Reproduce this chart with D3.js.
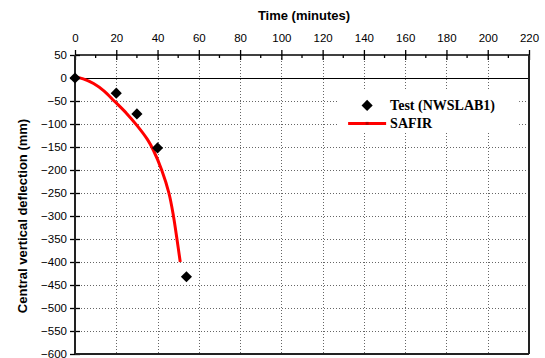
<!DOCTYPE html>
<html>
<head>
<meta charset="utf-8">
<script src="https://cdn.jsdelivr.net/npm/d3@7"></script>
<style>
  body { margin: 0; background: #fff; }
  svg { display: block; }
</style>
</head>
<body>
<svg id="chart" width="545" height="358"></svg>
<script>
// test measurements (NWSLAB1)
const testTime = [0, 20, 30, 40, 54];
const testDefl = [0, -33, -78, -152, -432];

// SAFIR prediction
const safirTime = [0, 4, 9, 14, 19, 25, 30, 35, 38, 42, 45.5, 47.7, 49.4, 51];
const safirDefl = [3, -2, -12, -28, -50, -77, -103, -133, -157, -200, -250, -300, -350, -400];

const xTicks = [0, 20, 40, 60, 80, 100, 120, 140, 160, 180, 200, 220];
const xMinor = [10, 30, 50, 70, 90, 110, 130, 150, 170, 190, 210];
const yTicks = [50, 0, -50, -100, -150, -200, -250, -300, -350, -400, -450, -500, -550, -600];

const svg = d3.select("#chart"),
  margin = {top: 55, right: 16, bottom: 4, left: 75},
  width = +svg.attr("width") - margin.left - margin.right,
  height = +svg.attr("height") - margin.top - margin.bottom,
  g = svg.append("g").attr("transform", `translate(${margin.left},${margin.top})`);

const x = d3.scaleLinear().domain([0, 220]).range([0, width]);
const y = d3.scaleLinear().domain([-600, 50]).range([height, 0]);

// dotted grid
g.append("g")
  .attr("shape-rendering", "crispEdges")
  .selectAll("line")
  .data(xTicks.filter(d => d > 0 && d < 220))
  .join("line")
  .attr("x1", d => Math.round(x(d)) + 0.5).attr("x2", d => Math.round(x(d)) + 0.5)
  .attr("y1", 0).attr("y2", height)
  .attr("stroke", "#666")
  .attr("stroke-dasharray", "1,2");

g.append("g")
  .attr("shape-rendering", "crispEdges")
  .selectAll("line")
  .data(yTicks.filter(d => d < 0 && d > -600))
  .join("line")
  .attr("x1", 0).attr("x2", width)
  .attr("y1", d => Math.round(y(d)) + 0.5).attr("y2", d => Math.round(y(d)) + 0.5)
  .attr("stroke", "#666")
  .attr("stroke-dasharray", "1,2");

// zero line
g.append("line")
  .attr("shape-rendering", "crispEdges")
  .attr("x1", 0).attr("x2", width)
  .attr("y1", Math.round(y(0)) + 0.5).attr("y2", Math.round(y(0)) + 0.5)
  .attr("stroke", "#000")
  .attr("stroke-width", 1);

// legend background (covers grid)
const lx = x(127.5), ly = y(-27);
g.append("rect")
  .attr("x", lx).attr("y", ly)
  .attr("width", 181).attr("height", 42)
  .attr("fill", "#fff");

// top axis
const topAxis = g.append("g")
  .call(d3.axisTop(x).tickValues(xTicks).tickSize(5).tickPadding(8));
topAxis.select(".domain").remove();
topAxis.selectAll("line").attr("y2", -5).attr("y1", 5).attr("stroke-width", 1.3);
topAxis.selectAll("text")
  .attr("font-family", "Arial, 'Liberation Sans', sans-serif")
  .attr("font-size", "11.5px")
  .attr("fill", "#000");

g.append("g")
  .selectAll("line")
  .data(xMinor)
  .join("line")
  .attr("x1", d => x(d)).attr("x2", d => x(d))
  .attr("y1", 0).attr("y2", 3)
  .attr("stroke", "#000")
  .attr("stroke-width", 1.3);

// left axis
const leftAxis = g.append("g")
  .call(d3.axisLeft(y).tickValues(yTicks).tickSize(5).tickPadding(3));
leftAxis.select(".domain").remove();
leftAxis.selectAll("line").attr("x1", 5).attr("stroke-width", 1.3);
leftAxis.selectAll("text")
  .attr("font-family", "Arial, 'Liberation Sans', sans-serif")
  .attr("font-size", "11.5px")
  .attr("fill", "#000");

// frame
g.append("line").attr("x1", 0).attr("x2", width).attr("y1", 0).attr("y2", 0)
  .attr("stroke", "#000").attr("stroke-width", 1.5);
g.append("line").attr("x1", 0).attr("x2", 0).attr("y1", 0).attr("y2", height)
  .attr("stroke", "#222").attr("stroke-width", 2);
g.append("line").attr("x1", width).attr("x2", width).attr("y1", 0).attr("y2", height)
  .attr("stroke", "#222").attr("stroke-width", 2);
g.append("line").attr("x1", 0).attr("x2", width).attr("y1", height).attr("y2", height)
  .attr("stroke", "#222").attr("stroke-width", 2);

// SAFIR curve
const safir = safirTime.map((t, i) => ({t, d: safirDefl[i]}));
g.append("path")
  .datum(safir)
  .attr("fill", "none")
  .attr("stroke", "#ff0000")
  .attr("stroke-width", 3)
  .attr("d", d3.line().x(d => x(d.t)).y(d => y(d.d)).curve(d3.curveCatmullRom));

// test points
const test = testTime.map((t, i) => ({t, d: testDefl[i]}));
const diamond = d3.symbol().type(d3.symbolSquare).size(62);
g.append("g")
  .selectAll("path")
  .data(test)
  .join("path")
  .attr("d", diamond)
  .attr("transform", d => `translate(${x(d.t)},${y(d.d)}) rotate(45)`)
  .attr("fill", "#000");

// legend
const legendFont = "'Times New Roman', 'Liberation Serif', serif";
g.append("path")
  .attr("d", diamond)
  .attr("transform", `translate(${lx + 29},${ly + 15}) rotate(45)`)
  .attr("fill", "#000");
g.append("text")
  .attr("x", lx + 52).attr("y", ly + 20)
  .attr("font-family", legendFont).attr("font-weight", "bold").attr("font-size", "14px")
  .text("Test (NWSLAB1)");
g.append("line")
  .attr("x1", lx + 10).attr("x2", lx + 48)
  .attr("y1", ly + 33).attr("y2", ly + 33)
  .attr("stroke", "#ff0000").attr("stroke-width", 3);
g.append("rect")
  .attr("x", lx + 27.5).attr("y", ly + 31.5).attr("width", 3).attr("height", 3)
  .attr("fill", "#c00000");
g.append("text")
  .attr("x", lx + 52).attr("y", ly + 38)
  .attr("font-family", legendFont).attr("font-weight", "bold").attr("font-size", "14px")
  .text("SAFIR");

// axis titles
svg.append("text")
  .attr("x", margin.left + width / 2 + 2)
  .attr("y", 20)
  .attr("text-anchor", "middle")
  .attr("font-family", "Arial, 'Liberation Sans', sans-serif")
  .attr("font-weight", "bold")
  .attr("font-size", "13px")
  .text("Time (minutes)");

svg.append("text")
  .attr("transform", "translate(27,216) rotate(-90)")
  .attr("text-anchor", "middle")
  .attr("font-family", "Arial, 'Liberation Sans', sans-serif")
  .attr("font-weight", "bold")
  .attr("font-size", "13px")
  .text("Central vertical deflection (mm)");
</script>
</body>
</html>
